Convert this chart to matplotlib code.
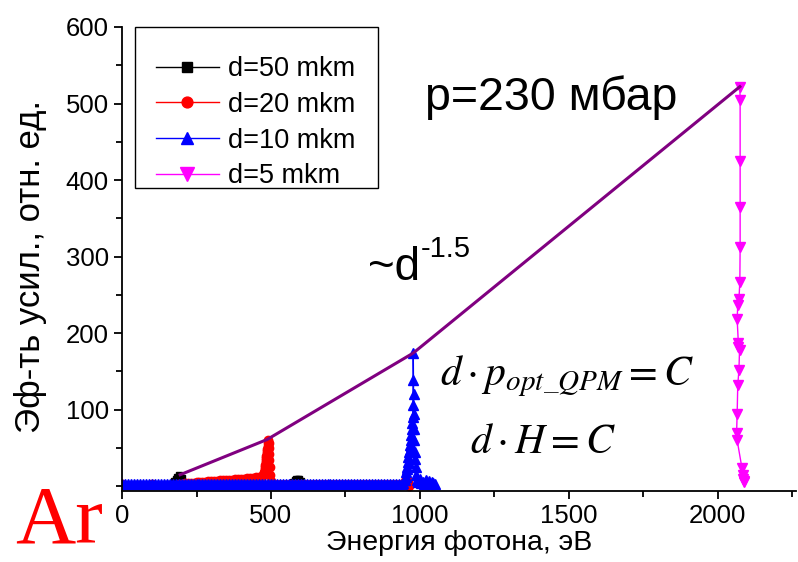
import matplotlib
matplotlib.use("Agg")
import matplotlib.pyplot as plt
from matplotlib.patches import Rectangle
from matplotlib.ticker import MultipleLocator

plt.rcParams['font.family'] = ['Liberation Sans', 'DejaVu Sans']
plt.rcParams['mathtext.fontset'] = 'stix'

# --- data (photon energy in eV, gain in rel. units) ---
x_d50 = [0, 50, 100, 150, 170, 175, 180, 185, 190, 195, 200, 205, 210, 250,
         300, 400, 500, 570, 575, 580, 585, 590, 595, 600, 605, 650, 700]
y_d50 = [3, 3, 3, 3, 4, 7, 10, 12, 14, 13, 11, 6, 3, 3,
         3, 3, 3, 4, 6, 8, 10, 10, 9, 7, 4, 3, 3]

x_d20 = [0, 100, 190, 200, 210, 220, 230, 240, 250, 260, 270, 280, 290, 300,
         310, 320, 330, 340, 350, 360, 370, 380, 390, 400, 410, 420, 430,
         440, 450, 460, 470, 474, 476, 478, 479, 480, 481, 482, 483, 484,
         485, 486, 487, 488, 489, 490, 491, 492, 493, 494, 495, 496, 498,
         500, 950, 960, 965]
y_d20 = [3, 3, 3, 3.3, 3.6, 4, 4.3, 4.5, 5, 5.3, 5.5, 6, 6.2, 6.6,
         7, 7.2, 7.5, 7.8, 8, 8.4, 8.7, 9, 9.3, 9.6, 10, 10.3, 10.8,
         11, 11.5, 12, 13, 15, 17, 19, 22, 25, 28, 31, 34, 37,
         40, 43, 46, 49, 52, 56, 61, 57, 50, 42, 34, 25, 15,
         7, 7, 7, 0]

x_d10 = [0, 10, 20, 30, 40, 50, 60, 70, 80, 90, 100, 110, 120, 130, 140, 150,
         160, 170, 180, 190, 200, 210, 220, 230, 240, 250, 260, 270, 280, 290,
         300, 310, 320, 330, 340, 350, 360, 370, 380, 390, 400, 410, 420, 430,
         440, 450, 460, 470, 480, 490, 500, 510, 520, 530, 540, 550, 560, 570,
         580, 590, 600, 610, 620, 630, 640, 650, 660, 670, 680, 690, 700, 710,
         720, 730, 740, 750, 760, 770, 780, 790, 800, 810, 820, 830, 840, 850,
         860, 870, 880, 890, 900, 910, 920, 930, 940,
         945, 950, 952, 955, 957, 958, 960, 962, 963, 965, 966, 968, 969, 970,
         972, 973, 975, 976, 977, 978, 978, 979, 980, 981, 982, 983, 984, 986,
         988, 990, 995, 1000, 1005, 1010, 1015, 1020, 1025, 1030, 1035, 1040,
         1045, 1050]
y_d10 = [3, 3, 3, 3, 3, 3, 3, 3, 3, 3, 3, 3, 3, 3, 3, 3,
         3, 3, 3, 3, 3, 3, 3, 3, 3, 3, 3, 3, 3, 3,
         3, 3, 3, 3, 3, 3, 3, 3, 3, 3, 3, 3, 3, 3,
         3, 3, 3, 3, 3, 3, 3, 3, 3, 3, 3, 3, 3, 3,
         3, 3, 3, 3, 3, 3, 3, 3, 3, 3, 3, 3, 3, 3,
         3, 3, 3, 3, 3, 3, 3, 3, 3, 3, 3, 3, 3, 3,
         3, 3, 3, 3, 3, 3, 3, 3, 3,
         4, 8, 12, 18, 25, 22, 32, 38, 30, 45, 54, 47, 60, 52,
         67, 75, 82, 90, 106, 139, 174, 120, 95, 75, 60, 45, 35, 25,
         14, 8, 5, 10, 4, 6, 3, 8, 4, 7, 3, 6,
         4, 3]

x_d5 = [2075, 2076, 2076, 2076, 2076, 2075, 2072, 2068, 2066, 2070, 2068,
        2074, 2072, 2068, 2066, 2064, 2066, 2082, 2085, 2086, 2088, 2090]
y_d5 = [522, 505, 425, 365, 313, 267, 244, 237, 218, 187, 182,
        178, 152, 132, 95, 69, 60, 24, 14, 10, 7, 5]

# peak envelope ~d^-1.5
x_fit = [195, 487, 978, 2075]
y_fit = [15, 61, 174, 522]

fig = plt.figure(figsize=(7.98, 5.62), dpi=100)
ax = fig.add_axes([0.153, 0.126, 0.845, 0.826])

ax.plot(x_d50, y_d50, color='black', lw=1, marker='s', ms=5, label='d=50 mkm')
ax.plot(x_d20, y_d20, color='red', lw=1, marker='o', ms=6, label='d=20 mkm')
ax.plot(x_d10, y_d10, color='blue', lw=1, marker='^', ms=7, label='d=10 mkm')
ax.plot(x_d5, y_d5, color='magenta', lw=1, marker='v', ms=7.5, label='d=5 mkm')
ax.plot(x_fit, y_fit, color='#800080', lw=2.2)

ax.set_xlim(0, 2265)
ax.set_ylim(-6.5, 600)
ax.xaxis.set_major_locator(MultipleLocator(500))
ax.xaxis.set_minor_locator(MultipleLocator(250))
ax.set_yticks([100, 200, 300, 400, 500, 600])
ax.yaxis.set_minor_locator(MultipleLocator(50))
ax.tick_params(which='major', length=6, width=1.3, labelsize=18.5)
ax.tick_params(which='minor', length=4, width=1.3)
for s in ['top', 'right']:
    ax.spines[s].set_visible(False)
for s in ['left', 'bottom']:
    ax.spines[s].set_linewidth(1.3)

ax.set_xlabel('Энергия фотона, эВ', fontsize=20.5, labelpad=1)
ax.set_ylabel('Эф-ть усил., отн. ед.', fontsize=25)
ax.yaxis.set_label_coords(-0.112, 0.483)

# legend entries without frame, frame drawn as a separate box
ax.legend(loc='upper left', bbox_to_anchor=(0.050, 0.937), fontsize=19.5,
          frameon=False, handlelength=2.33, handletextpad=0.33,
          labelspacing=0.36, borderpad=0, borderaxespad=0, markerscale=1.3)
ax.add_patch(Rectangle((0.0193, 0.653), 0.36, 0.347, transform=ax.transAxes,
                       fill=False, edgecolor='black', lw=1.0, clip_on=False,
                       zorder=5))

ax.text(1018, 491, 'p=230 мбар', fontsize=33.5, ha='left', va='baseline')
t = ax.text(827, 269, '~d', fontsize=33, ha='left', va='baseline')
ax.annotate('-1.5', xy=(1, 1), xycoords=t, xytext=(0, -12),
            textcoords='offset points', fontsize=21, ha='left', va='bottom')
ax.text(1069, 132, '$d\\cdot p_{opt\\_QPM}=C$', fontsize=30, ha='left', va='baseline')
ax.text(1170, 43, '$d\\cdot H=C$', fontsize=30, ha='left', va='baseline')

fig.text(0.019, 0.034, 'Ar', color='red', fontsize=60, family='Liberation Serif',
         ha='left', va='baseline')

fig.savefig('out.png', dpi=100)
